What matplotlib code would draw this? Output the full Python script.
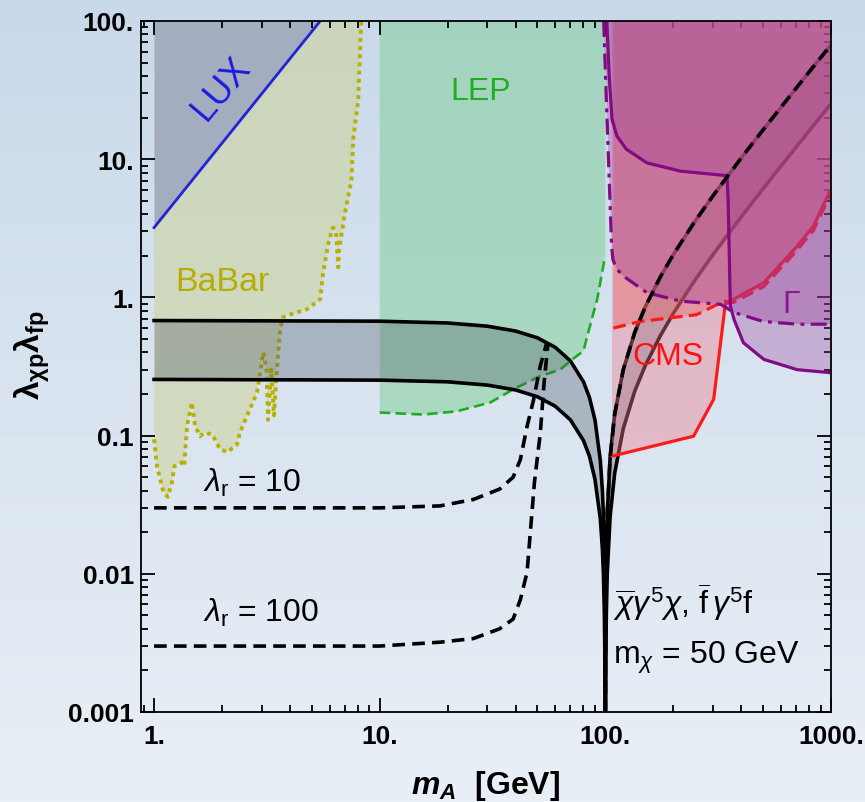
import numpy as np
import matplotlib
matplotlib.use("Agg")
import matplotlib.pyplot as plt
from matplotlib.ticker import LogLocator, NullFormatter

plt.rcParams['font.family'] = ['Liberation Sans', 'DejaVu Sans']
plt.rcParams['mathtext.fontset'] = 'custom'
plt.rcParams['mathtext.rm'] = 'Liberation Sans'
plt.rcParams['mathtext.it'] = 'Liberation Sans:italic'
plt.rcParams['mathtext.bf'] = 'Liberation Sans:bold'
plt.rcParams['mathtext.bfit'] = 'Liberation Sans:italic:bold'
plt.rcParams['mathtext.sf'] = 'Liberation Sans'

# ---- data ----
# coupling band (two solid curves), below / above the resonance at m_A = 2 m_chi = 100 GeV
band_x_lo = [1, 10, 20, 30, 40, 50, 60, 70, 80, 85, 90, 95, 97, 98, 99, 99.5, 99.8, 100]
band_up_lo = [0.68, 0.673, 0.653, 0.619, 0.571, 0.51, 0.435, 0.347, 0.245, 0.189, 0.129,
              0.066, 0.0402, 0.027, 0.0135, 0.0068, 0.0027, 0.0005]
band_dn_lo = [0.255, 0.252, 0.245, 0.232, 0.214, 0.191, 0.163, 0.130, 0.092, 0.071, 0.048,
              0.025, 0.0151, 0.0101, 0.0051, 0.0025, 0.00102, 0.0005]
band_x_hi = [100, 100.2, 100.5, 101, 102, 105, 110, 120, 135, 150, 175, 200, 250, 300,
             400, 500, 700, 1000]
band_up_hi = [0.0005, 0.00272, 0.00682, 0.0137, 0.0275, 0.0697, 0.143, 0.299, 0.559, 0.85,
              1.40, 2.04, 3.57, 5.44, 10.2, 16.3, 32.6, 67.3]
band_dn_hi = [0.0005, 0.00102, 0.00256, 0.00513, 0.0103, 0.0261, 0.0536, 0.112, 0.210,
              0.319, 0.526, 0.765, 1.34, 2.04, 3.83, 6.12, 12.2, 25.2]

# lambda_r dashed curves
lam10_x = [1, 10, 18.5, 26, 34, 39, 42, 45, 48, 51.5, 55]
lam10_y = [0.030, 0.030, 0.031, 0.0345, 0.041, 0.05, 0.067, 0.117, 0.18, 0.32, 0.47]
lam100_x = [1, 10, 18.5, 26, 34, 39, 42, 45, 46.5, 48.5, 51.5, 53.5, 55.7]
lam100_y = [0.003, 0.003, 0.0032, 0.0034, 0.004, 0.0047, 0.0065, 0.0103, 0.020, 0.046,
            0.105, 0.24, 0.47]

# LUX
lux_x = [1, 5.45]
lux_y = [3.2, 100]

# BaBar (dotted)
babar_x = [1.0, 1.03, 1.10, 1.15, 1.20, 1.23, 1.32, 1.36, 1.40, 1.47, 1.52, 1.60, 1.67,
           1.81, 1.96, 2.11, 2.33, 2.40, 2.86, 3.05, 3.15, 3.2, 3.3, 3.4, 3.5, 3.62, 3.73,
           4.3, 4.76, 5.45, 5.6, 5.9, 6.2, 6.4, 6.55, 6.6, 7.0, 7.5, 7.63, 8.03, 8.28]
babar_y = [0.094, 0.060, 0.039, 0.036, 0.046, 0.060, 0.064, 0.060, 0.117, 0.174, 0.117,
           0.099, 0.105, 0.102, 0.080, 0.076, 0.086, 0.105, 0.205, 0.40, 0.30, 0.13, 0.30,
           0.14, 0.30, 0.59, 0.72, 0.78, 0.82, 0.97, 1.47, 2.4, 3.2, 3.0, 1.65, 2.2, 4.0,
           7.1, 13.9, 27, 100]

# LEP (dashed green)
lep_x = [10, 15.6, 22, 31, 39, 51, 63, 72, 80, 83, 92, 99.5]
lep_y = [0.147, 0.142, 0.15, 0.174, 0.216, 0.268, 0.30, 0.36, 0.41, 0.52, 0.97, 1.95]

# CMS: solid and dashed red
cms_x = [107, 246, 302, 340, 370, 504, 708, 836, 980, 1000]
cms_y = [0.071, 0.099, 0.183, 0.89, 0.97, 1.28, 2.35, 3.28, 5.7, 6.0]
cms2_x = [108.5, 143, 254, 335, 370, 504, 708, 836, 980, 1000]
cms2_y = [0.60, 0.67, 0.75, 0.94, 0.92, 1.20, 2.2, 3.05, 5.3, 5.6]

# Width constraint Gamma: dash-dot and solid purple
gam1_x = [98.3, 101, 106.6, 108, 112.5, 120, 153, 215, 325, 370, 500, 707, 1000]
gam1_y = [100, 27, 2.34, 1.88, 1.6, 1.43, 1.08, 0.94, 0.89, 0.78, 0.67, 0.64, 0.64]
gam2_x = [101.5, 104, 107, 112.5, 124, 153, 215, 346, 350, 358, 372, 409, 504, 708, 1000]
gam2_y = [100, 40, 19.5, 14.7, 11.8, 9.4, 8.2, 7.6, 5.1, 0.87, 0.69, 0.47, 0.356, 0.30, 0.285]

YTOP = 100

fig = plt.figure(figsize=(8.65, 8.03), dpi=100)

# gradient background
bg = fig.add_axes([0, 0, 1, 1], zorder=-10)
grad = np.linspace(0, 1, 256)[:, None]
top_c = np.array([0xc9, 0xd9, 0xea]) / 255
bot_c = np.array([0xe9, 0xef, 0xf6]) / 255
img = top_c[None, None, :] * (1 - grad[:, :, None]) + bot_c[None, None, :] * grad[:, :, None]
bg.imshow(img, aspect='auto', extent=[0, 1, 0, 1], origin='upper')
bg.axis('off')

ax = fig.add_axes([141 / 865, 90 / 803, 690 / 865, 691 / 803])
ax.set_facecolor('none')
ax.set_xscale('log')
ax.set_yscale('log')

# ── background exclusion regions ─────────────────────────────
ax.fill([1] + babar_x + [babar_x[-1]], [YTOP] + babar_y + [YTOP],
        color='#cbd28f', alpha=0.5, lw=0, zorder=1)
ax.fill_between(lux_x, lux_y, YTOP, color='#a4adbf', lw=0, zorder=1.2)
ax.fill([10] + lep_x + [100, 100], [YTOP] + lep_y + [lep_y[-1], YTOP],
        color='#7dcf95', alpha=0.5, lw=0, zorder=1)

ax.plot(lux_x, lux_y, color='#2323d8', lw=2.0, zorder=2)
ax.plot(babar_x, babar_y, color='#b8b000', lw=2.8, ls=(0, (1, 1.1)), zorder=2)
ax.plot(lep_x, lep_y, color='#22aa22', lw=1.9, ls=(0, (4, 2)), zorder=2)

# ── coupling band ────────────────────────────────────────────
for bx, up, dn in [(band_x_lo, band_up_lo, band_dn_lo), (band_x_hi, band_up_hi, band_dn_hi)]:
    ax.fill_between(bx, dn, up, color='#404a5a', alpha=0.3, lw=0, zorder=3)
    ax.plot(bx, up, color='black', lw=2.6, zorder=3.1)
    ax.plot(bx, dn, color='black', lw=2.6, zorder=3.1)

# ── CMS ──────────────────────────────────────────────────────
ax.fill([cms_x[0]] + cms_x + [cms_x[-1]], [YTOP] + cms_y + [YTOP],
        color='#f07a8c', alpha=0.4, lw=0, zorder=4)
ax.fill([cms2_x[0]] + cms2_x + [cms2_x[-1]], [YTOP] + cms2_y + [YTOP],
        color='#f05a5a', alpha=0.35, lw=0, zorder=4)
ax.plot(cms_x, cms_y, color='#ff1a1a', lw=2.3, zorder=5)
ax.plot(cms2_x, cms2_y, color='#ff1a1a', lw=2.3, ls=(0, (4, 2)), zorder=5)

# ── width constraint ─────────────────────────────────────────
ax.fill(gam1_x + [1000], gam1_y + [YTOP], color='#9c3c96', alpha=0.35, lw=0, zorder=6)
ax.fill(gam2_x + [1000], gam2_y + [YTOP], color='#9c3c96', alpha=0.3, lw=0, zorder=6)
ax.plot(gam1_x, gam1_y, color='#820a82', lw=2.3, ls=(0, (5, 2, 1.2, 2)), zorder=7)
ax.plot(gam2_x, gam2_y, color='#820a82', lw=2.3, zorder=7)

# ── lambda_r dashed curves ───────────────────────────────────
ax.plot(lam10_x, lam10_y, color='black', lw=2.6, ls=(0, (3.5, 2)), zorder=8)
ax.plot(lam100_x, lam100_y, color='black', lw=2.6, ls=(0, (3.5, 2)), zorder=8)
ax.plot(band_x_hi, band_up_hi, color='black', lw=2.6, ls=(0, (3.5, 2)), zorder=8)

# ── labels in the plot ───────────────────────────────────────
fs = 23
ax.text(1.98, 33, 'LUX', color='#1a1ae0', fontsize=26, rotation=50,
        ha='center', va='center', zorder=9)
ax.text(1.24, 1.31, 'BaBar', color='#b5ae00', fontsize=24.5, ha='left', va='center', zorder=9)
ax.text(20.5, 31, 'LEP', color='#1fae1f', fontsize=fs, ha='left', va='center', zorder=9)
ax.text(132, 0.374, 'CMS', color='#ff1010', fontsize=fs, ha='left', va='center', zorder=9)
ax.text(666, 0.89, r'$\Gamma$', color='#8b1a8b', fontsize=fs, ha='center', va='center',
        zorder=9)
ax.text(1.65, 0.0464, r'$\lambda_\mathrm{r}$ = 10', fontsize=fs, ha='left', va='center',
        zorder=9)
ax.text(1.65, 0.00532, r'$\lambda_\mathrm{r}$ = 100', fontsize=fs, ha='left', va='center',
        zorder=9)
ax.text(107.7, 0.0063, r'$\overline{\chi}\gamma^5\chi$, $\overline{\mathrm{f}}\,\gamma^5\mathrm{f}$',
        fontsize=fs, ha='left', va='center', zorder=9)
ax.text(107.7, 0.0025, r'm$_\chi$ = 50 GeV', fontsize=fs, ha='left', va='center', zorder=9)

# ── axes ─────────────────────────────────────────────────────
ax.set_xlim(0.875, 1000)
ax.set_ylim(0.001, 100)
ax.set_xticks([1, 10, 100, 1000], ['1.', '10.', '100.', '1000.'])
ax.set_yticks([0.001, 0.01, 0.1, 1, 10, 100], ['0.001', '0.01', '0.1', '1.', '10.', '100.'])
ax.xaxis.set_minor_locator(LogLocator(base=10, subs=np.arange(2, 10)))
ax.yaxis.set_minor_locator(LogLocator(base=10, subs=np.arange(2, 10)))
ax.xaxis.set_minor_formatter(NullFormatter())
ax.yaxis.set_minor_formatter(NullFormatter())
ax.tick_params(which='both', direction='in', top=True, right=True, width=1.3,
               labelsize=19)
ax.tick_params(which='major', length=10)
ax.tick_params(which='minor', length=5)
ax.tick_params(axis='x', pad=9)
ax.tick_params(axis='y', pad=5)
for lab in ax.get_xticklabels() + ax.get_yticklabels():
    lab.set_fontweight('bold')
for s in ax.spines.values():
    s.set_linewidth(1.3)
    s.set_zorder(10)

ax.text(0.5, -0.106, r'$\mathbfit{m}_{\mathbfit{A}}$  [GeV]', transform=ax.transAxes,
        fontsize=23, fontweight='bold', ha='center', va='center')
ax.text(-0.158, 0.518, r'$\mathbf{\lambda_{\chi p}\lambda_{fp}}$', transform=ax.transAxes,
        fontsize=24, rotation=90, ha='center', va='center')

fig.savefig('out.png', dpi=100)
